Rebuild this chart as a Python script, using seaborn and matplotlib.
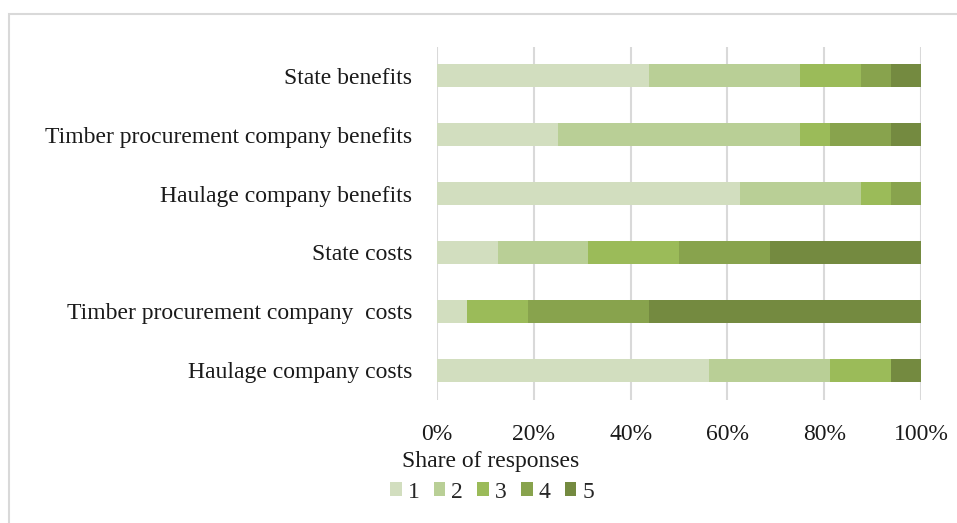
import matplotlib
matplotlib.use("Agg")
import matplotlib.pyplot as plt
import seaborn as sns
import pandas as pd
import numpy as np
from matplotlib.patches import Rectangle, Patch

sns.set_theme(style="white")
plt.rcParams['font.family'] = ['Liberation Serif', 'DejaVu Serif']

categories = [
    "State benefits",
    "Timber procurement company benefits",
    "Haulage company benefits",
    "State costs",
    "Timber procurement company  costs",
    "Haulage company costs",
]
levels = ["1", "2", "3", "4", "5"]
share_1 = [43.75, 25.0, 62.5, 12.5, 6.25, 56.25]
share_2 = [31.25, 50.0, 25.0, 18.75, 0.0, 25.0]
share_3 = [12.5, 6.25, 6.25, 18.75, 12.5, 12.5]
share_4 = [6.25, 12.5, 6.25, 18.75, 25.0, 0.0]
share_5 = [6.25, 6.25, 0.0, 31.25, 56.25, 6.25]
colors = ["#d2debf", "#b9cf96", "#9bbb59", "#88a34d", "#748a40"]

shares = [share_1, share_2, share_3, share_4, share_5]
df = pd.DataFrame({"category": categories})
for lvl, vals in zip(levels, shares):
    df[lvl] = vals

fig = plt.figure(figsize=(9.57, 5.23), dpi=100)
ax = fig.add_axes([437 / 957, 1 - 399.5 / 523, 484 / 957, 353 / 523])

# stacked bars: draw cumulative totals back-to-front
cums = np.cumsum(df[levels].values.T, axis=0)
for i in range(len(levels) - 1, -1, -1):
    sns.barplot(x=cums[i], y=df["category"], color=colors[i], orient="h",
                width=0.39, ax=ax, saturation=1, linewidth=0, zorder=2)

ax.set_xlim(0, 100)
ax.set_ylim(5.5, -0.5)
ax.set_xticks(np.arange(0, 101, 20))
ax.set_xticklabels([f"{v}%" for v in range(0, 101, 20)])
ax.grid(axis="x", color="#d9d9d9", linewidth=1.5, zorder=0)
ax.set_axisbelow(True)
for s in ax.spines.values():
    s.set_visible(False)
ax.tick_params(axis="both", length=0, labelsize=17, colors="#1a1a1a")
ax.tick_params(axis="x", pad=18)
ax.tick_params(axis="y", pad=18)
ax.set_xlabel("")
ax.set_ylabel("")

# outer chart border
fig.patches.append(Rectangle((8.5 / 957, -0.05), 1.1, 1 - 13.5 / 523 + 0.05,
                             transform=fig.transFigure, fill=False,
                             edgecolor="#d9d9d9", linewidth=1.5))

fig.text(491 / 957, 1 - 461 / 523, "Share of responses", ha="center",
         va="center", fontsize=17, color="#1a1a1a")
handles = [Patch(facecolor=c, edgecolor="none") for c in colors]
fig.legend(handles, levels, loc="center", bbox_to_anchor=(492 / 957, 1 - 492 / 523),
           ncol=5, frameon=False, fontsize=17, handlelength=0.5, handleheight=0.5,
           handletextpad=0.25, columnspacing=0.6, borderpad=0)

fig.savefig("out.png", dpi=100)
